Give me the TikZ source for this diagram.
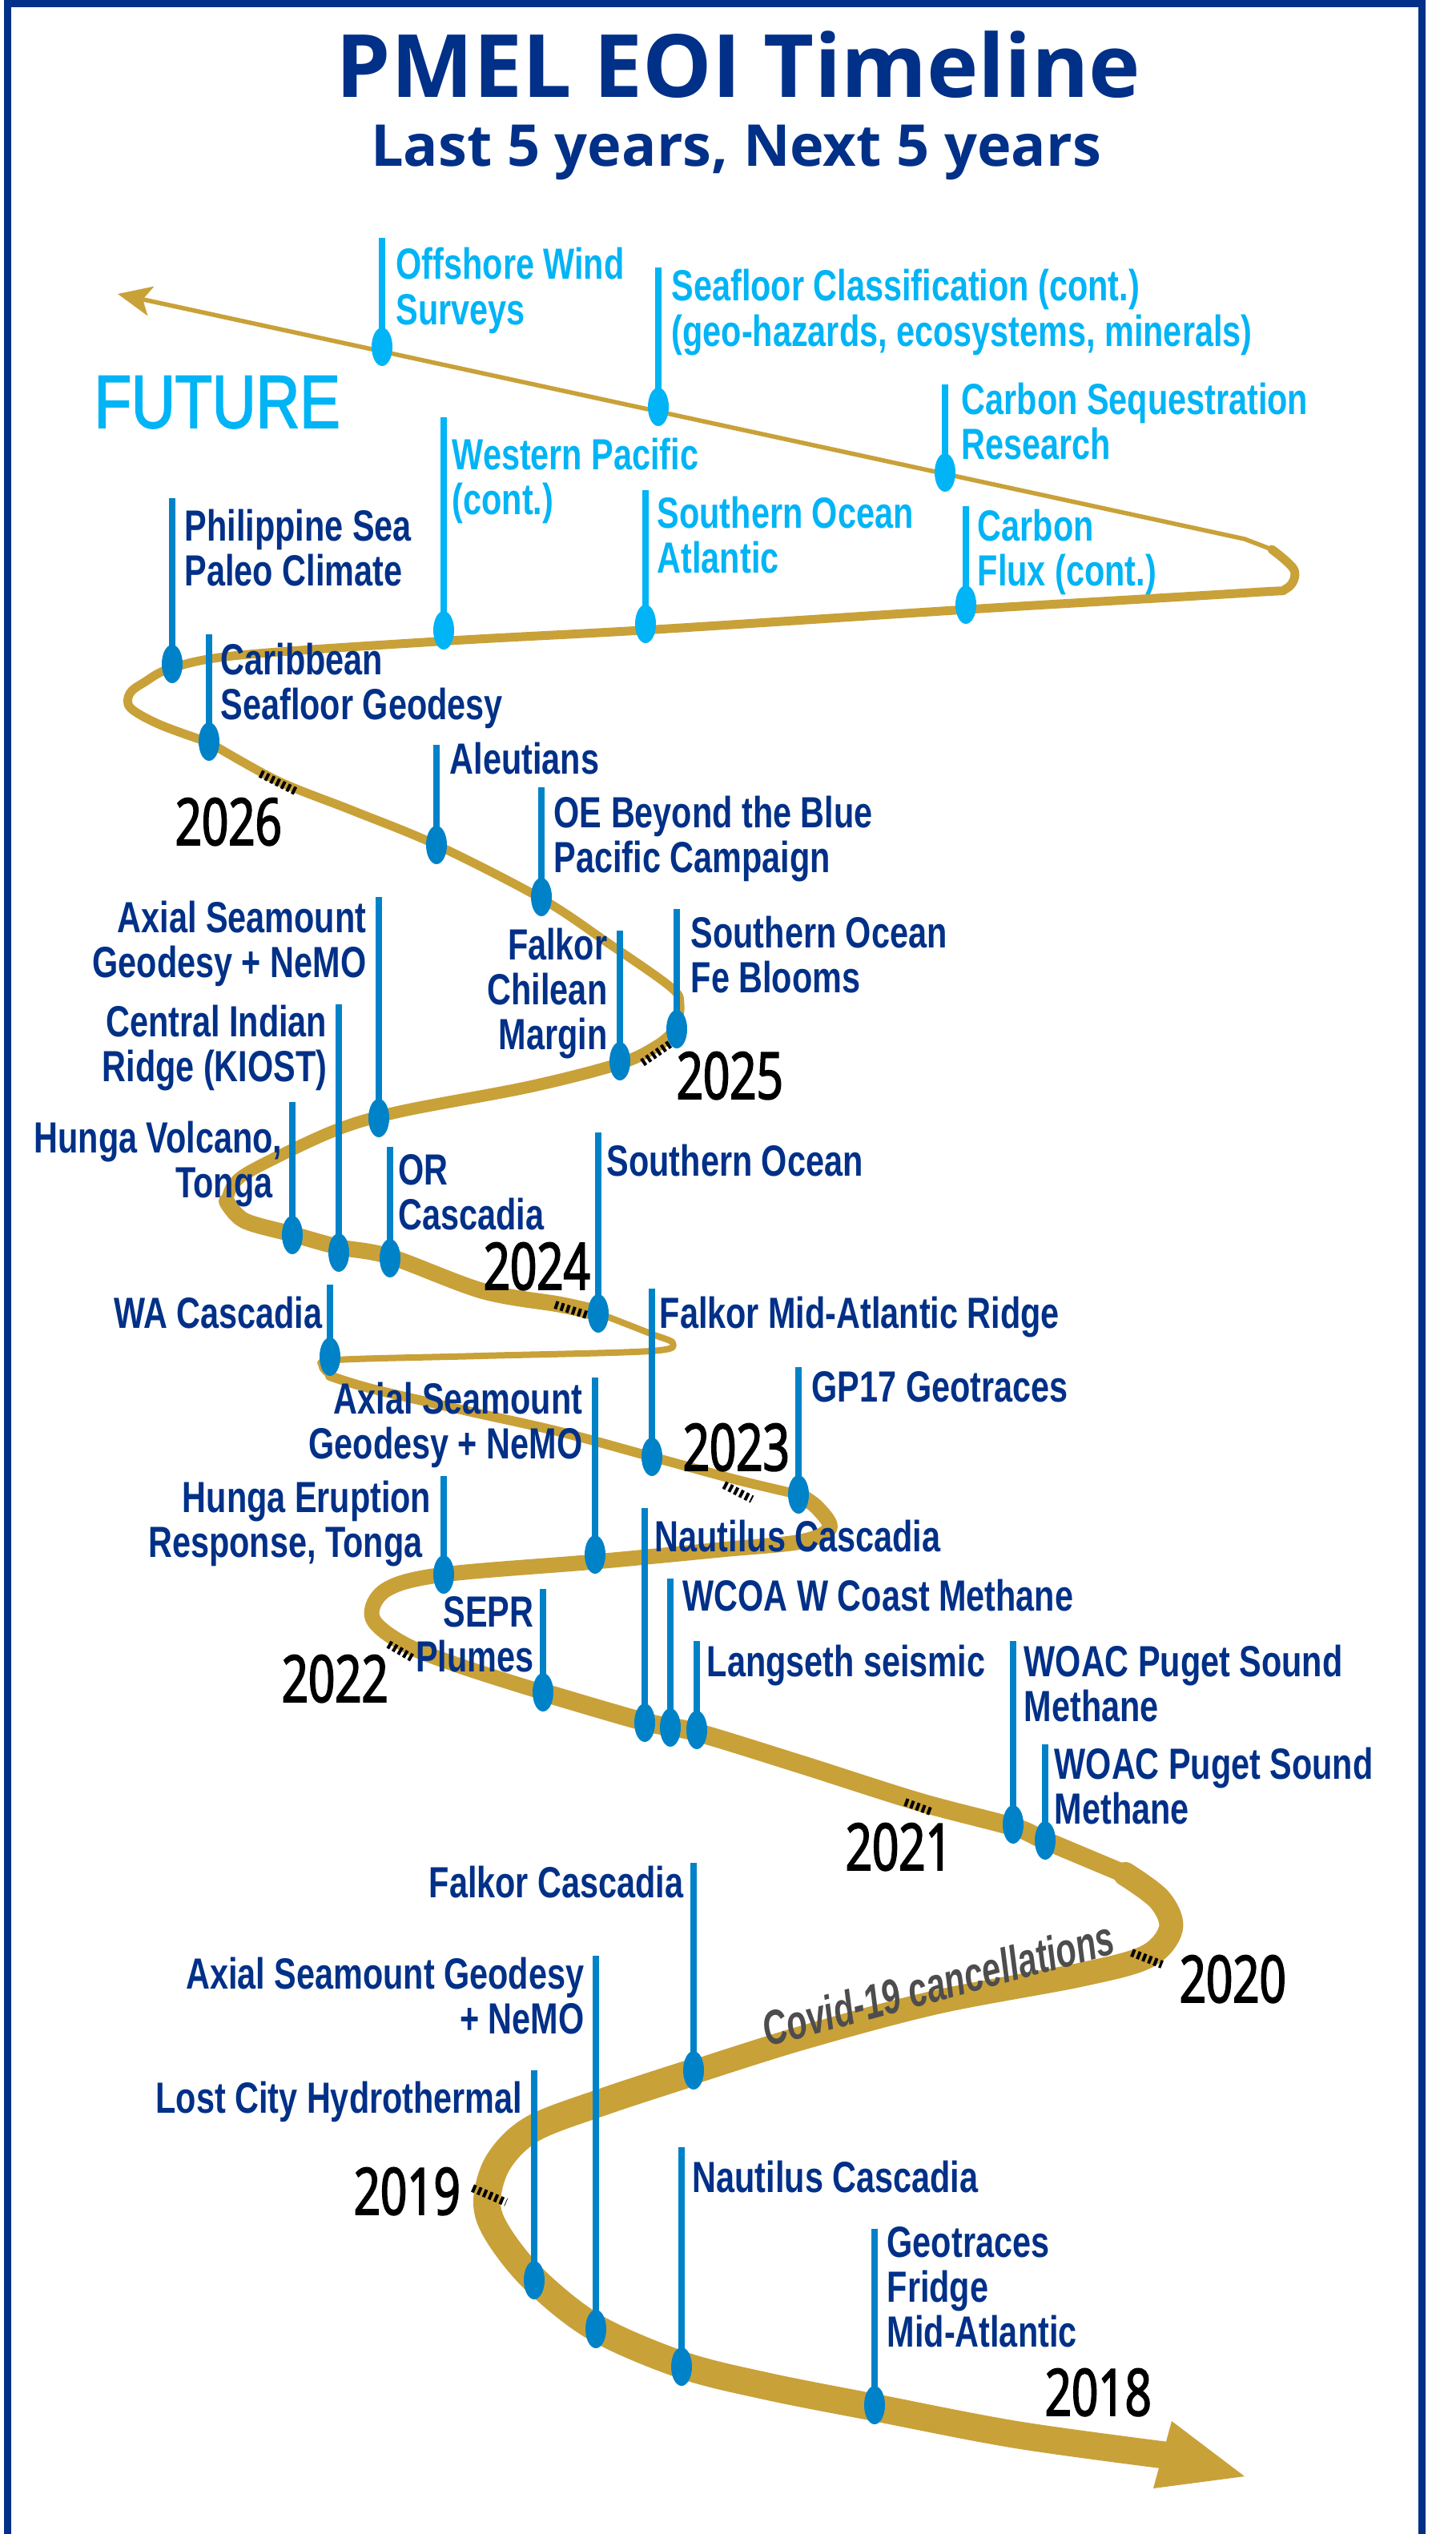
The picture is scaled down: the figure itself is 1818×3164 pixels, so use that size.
\documentclass[tikz,border=0pt]{standalone}
\usepackage{fontspec}
\setmainfont{Liberation Sans}
\newfontfamily\lblfont[FakeStretch=0.76]{Liberation Sans}
\newfontfamily\covfont[FakeStretch=0.69]{Liberation Sans}
\newfontfamily\futfont[FakeStretch=0.81, FakeBold=2]{Liberation Sans}
\newfontfamily\yrfont[FakeStretch=0.72, FakeBold=2.3]{Open Sans}
\newfontfamily\ttlfont{Open Sans}
\usetikzlibrary{arrows.meta}
\definecolor{navy}{RGB}{0,48,135}
\definecolor{sky}{RGB}{0,180,245}
\definecolor{mid}{RGB}{0,130,200}
\definecolor{gold}{RGB}{201,161,57}
\definecolor{covid}{RGB}{77,77,77}
\newcommand\Lt[1]{\vtop{\halign{##\hfil\cr#1\crcr}}}
\newcommand\Rt[1]{\vtop{\halign{\hfil##\cr#1\crcr}}}
\newcommand\evt[5]{%
  \coordinate (#1t) at (#2,#3);
  \coordinate (#1d) at (#2,#4);
  \draw[stemline,#5] (#1t) -- (#1d);
  \fill[#5] (#1d) ellipse [x radius=1.3mm, y radius=2.4mm];}
\begin{document}
\begin{tikzpicture}[x=0.1mm,y=-0.1mm,
  rib/.style={draw=gold, line cap=round, line join=round},
  stemline/.style={line width=0.75mm},
  lbl/.style={inner sep=0pt, font=\lblfont\bfseries\fontsize{15.5}{16}\selectfont},
  lblL/.style={lbl, anchor=base west},
  lblR/.style={lbl, anchor=base east},
  yr/.style={inner sep=0pt, anchor=base west, text=black, font=\yrfont\fontsize{23}{23}\selectfont},
  yrtick/.style={draw=black, line width=1.0mm, dash pattern=on 0.4mm off 0.35mm}]
\useasboundingbox (0,0) rectangle (1818,3164);
\fill[white] (0,0) rectangle (1818,3164);
% frame
\draw[navy, line width=0.9mm, line join=miter] (9,3170) -- (9,4.5) -- (1775,4.5) -- (1775,3170);
% ribbon
\fill[gold] (1463,3023) -- (1554,3092) -- (1440,3107) -- cycle;
\draw[rib, line width=3.4mm] plot[smooth, tension=0.55] coordinates {(1458,3066) (1269,3040) (1092,3006) (960,2980) (852,2953) (743,2906) (667,2846) (622,2790) (608,2750) (622,2700) (665,2658) (754,2624) (864,2588)};
\draw[rib, line width=3.0mm] plot[smooth, tension=0.55] coordinates {(864,2588) (1000,2545) (1169,2500) (1348,2466) (1432,2443) (1462,2408) (1448,2372) (1405,2340)};
\draw[rib, line width=2.3mm] plot[smooth, tension=0.55] coordinates {(1405,2340) (1305,2298) (1265,2281) (1148,2250) (1000,2203) (870,2163) (805,2150) (678,2113)};
\draw[rib, line width=1.9mm] plot[smooth, tension=0.55] coordinates {(678,2113) (580,2082) (505,2053) (465,2020) (482,1985) (554,1966) (743,1950) (900,1935) (1000,1925) (1036,1908) (1020,1882) (997,1866)};
\draw[rib, line width=1.2mm] plot[smooth, tension=0.55] coordinates {(997,1866) (921,1848) (814,1819) (696,1787) (580,1761) (464,1734) (412,1718)};
\draw[rib, line width=0.8mm] plot[smooth, tension=0.55] coordinates {(412,1718) (402,1706) (420,1698) (600,1693) (812,1687) (840,1677) (812,1665) (748,1640)};
\draw[rib, line width=2.0mm] plot[smooth, tension=0.55] coordinates {(748,1640) (700,1629) (603,1612) (487,1569) (423,1557) (365,1541) (305,1524) (283,1500)};
\draw[rib, line width=1.5mm] plot[smooth, tension=0.55] coordinates {(283,1500) (292,1478) (320,1458) (417,1412) (499,1388) (661,1357) (774,1328) (822,1305) (845,1285)};
\draw[rib, line width=1.1mm] plot[smooth, tension=0.55] coordinates {(845,1285) (849,1255) (838,1233) (760,1178) (676,1122) (545,1055) (440,1012) (347,975) (261,927)};
\draw[rib, line width=1.1mm] plot[smooth, tension=0.55] coordinates {(261,927) (200,905) (163,884) (162,866) (180,852) (215,834) (300,818) (562,800) (818,786) (1224,760) (1560,740) (1606,735) (1616,712) (1588,686)};
\draw[rib, line width=0.55mm, -{Stealth[length=4.2mm, width=3.7mm, inset=1mm]}] (1588,686) -- (1554,673) -- (147,367);
% year ticks
\draw[yrtick] (325,966) -- (369,988);
\draw[yrtick] (802,1327) -- (840,1301);
\draw[yrtick] (693,1629) -- (733,1642);
\draw[yrtick] (904,1854) -- (939,1872);
\draw[yrtick] (485,2053) -- (516,2071);
\draw[yrtick] (1130,2250) -- (1165,2263);
\draw[yrtick] (1413,2438) -- (1451,2453);
\draw[yrtick] (590,2732) -- (632,2750);
% future events
\evt{F1}{477}{297}{433}{sky}
\node[lblL, text=sky] (F1l) at (494,349) {\Lt{Offshore Wind\cr Surveys}};
\evt{F2}{822}{334}{508}{sky}
\node[lblL, text=sky] (F2l) at (838,376) {\Lt{Seafloor Classification (cont.)\cr (geo-hazards, ecosystems, minerals)}};
\evt{F3}{1180}{480}{590}{sky}
\node[lblL, text=sky] (F3l) at (1200,517) {\Lt{Carbon Sequestration\cr Research}};
\evt{F4}{554}{521}{787}{sky}
\node[lblL, text=sky] (F4l) at (564,586) {\Lt{Western Pacific\cr (cont.)}};
\evt{F5}{806}{612}{779}{sky}
\node[lblL, text=sky] (F5l) at (820,659) {\Lt{Southern Ocean\cr Atlantic}};
\evt{F6}{1206}{632}{755}{sky}
\node[lblL, text=sky] (F6l) at (1220,675) {\Lt{Carbon\cr Flux (cont.)}};
% past events
\evt{P1}{215}{622}{829}{mid}
\node[lblL, text=navy] (P1l) at (230,675) {\Lt{Philippine Sea\cr Paleo Climate}};
\evt{P2}{261}{792}{926}{mid}
\node[lblL, text=navy] (P2l) at (275,842) {\Lt{Caribbean\cr Seafloor Geodesy}};
\evt{P3}{545}{930}{1055}{mid}
\node[lblL, text=navy] (P3l) at (561,966) {Aleutians};
\evt{P4}{676}{983}{1120}{mid}
\node[lblL, text=navy] (P4l) at (691,1033) {\Lt{OE Beyond the Blue\cr Pacific Campaign}};
\evt{P5}{845}{1135}{1285}{mid}
\node[lblL, text=navy] (P5l) at (862,1183) {\Lt{Southern Ocean\cr Fe Blooms}};
\evt{P6}{774}{1162}{1325}{mid}
\node[lblR, text=navy] (P6l) at (759,1198) {\Rt{Falkor\cr Chilean\cr Margin}};
\evt{P7}{473}{1120}{1396}{mid}
\node[lblR, text=navy] (P7l) at (458,1164) {\Rt{Axial Seamount\cr Geodesy + NeMO}};
\evt{P8}{423}{1254}{1564}{mid}
\node[lblR, text=navy] (P8l) at (409,1294) {\Rt{Central Indian\cr Ridge (KIOST)}};
\evt{P9}{365}{1376}{1542}{mid}
\node[lblR, text=navy] (P9l) at (353,1439) {\Rt{Hunga Volcano,\cr Tonga\kern1.2mm}};
\evt{P10}{487}{1432}{1571}{mid}
\node[lblL, text=navy] (P10l) at (497,1479) {\Lt{OR\cr Cascadia}};
\evt{P11}{747}{1414}{1640}{mid}
\node[lblL, text=navy] (P11l) at (757,1468) {Southern Ocean};
\evt{P12}{814}{1609}{1819}{mid}
\node[lblL, text=navy] (P12l) at (823,1658) {Falkor Mid-Atlantic Ridge};
\evt{P13}{412}{1604}{1694}{mid}
\node[lblR, text=navy] (P13l) at (403,1658) {WA Cascadia};
\evt{P14}{997}{1707}{1866}{mid}
\node[lblL, text=navy] (P14l) at (1013,1750) {GP17 Geotraces};
\evt{P15}{743}{1720}{1941}{mid}
\node[lblR, text=navy] (P15l) at (728,1765) {\Rt{Axial Seamount\cr Geodesy + NeMO}};
\evt{P16}{554}{1843}{1966}{mid}
\node[lblR, text=navy] (P16l) at (539,1888) {\Rt{Hunga Eruption\cr Response, Tonga\kern1.1mm}};
\evt{P17}{805}{1883}{2151}{mid}
\node[lblL, text=navy] (P17l) at (817,1937) {Nautilus Cascadia};
\evt{P18}{837}{1971}{2157}{mid}
\node[lblL, text=navy] (P18l) at (852,2011) {WCOA W Coast Methane};
\evt{P19}{678}{1984}{2113}{mid}
\node[lblR, text=navy] (P19l) at (667,2031) {\Rt{SEPR\cr Plumes}};
\evt{P20}{870}{2049}{2160}{mid}
\node[lblL, text=navy] (P20l) at (882,2093) {Langseth seismic};
\evt{P21}{1265}{2049}{2278}{mid}
\node[lblL, text=navy] (P21l) at (1278,2093) {\Lt{WOAC Puget Sound\cr Methane}};
\evt{P22}{1305}{2178}{2298}{mid}
\node[lblL, text=navy] (P22l) at (1316,2221) {\Lt{WOAC Puget Sound\cr Methane}};
\evt{P23}{866}{2326}{2585}{mid}
\node[lblR, text=navy] (P23l) at (854,2369) {Falkor Cascadia};
\evt{P24}{744}{2442}{2908}{mid}
\node[lblR, text=navy] (P24l) at (730,2483) {\Rt{Axial Seamount Geodesy\cr + NeMO}};
\evt{P25}{667}{2585}{2847}{mid}
\node[lblR, text=navy] (P25l) at (653,2638) {Lost City Hydrothermal};
\evt{P26}{851}{2681}{2955}{mid}
\node[lblL, text=navy] (P26l) at (864,2737) {Nautilus Cascadia};
\evt{P27}{1092}{2783}{3003}{mid}
\node[lblL, text=navy] (P27l) at (1107,2818) {\Lt{Geotraces\cr Fridge\cr Mid-Atlantic}};
% years
\node[yr] (y2026) at (218,1055) {2026};
\node[yr] (y2025) at (844,1372) {2025};
\node[yr] (y2024) at (603,1610) {2024};
\node[yr] (y2023) at (852,1836) {2023};
\node[yr] (y2022) at (351,2125) {2022};
\node[yr] (y2021) at (1055,2335) {2021};
\node[yr] (y2020) at (1472,2500) {2020};
\node[yr] (y2019) at (441,2765) {2019};
\node[yr] (y2018) at (1304,3016) {2018};
% covid
\node[inner sep=0pt, anchor=base west, rotate=15, text=covid, font=\covfont\bfseries\itshape\fontsize{17.2}{18}\selectfont] (cov) at (958,2556) {Covid-19 cancellations};
% titles
\node[inner sep=0pt, anchor=base, text=navy, font=\ttlfont\bfseries\fontsize{31}{31}\selectfont] (title) at (922,122) {PMEL EOI Timeline};
\node[inner sep=0pt, anchor=base, text=navy, font=\ttlfont\bfseries\fontsize{20.5}{21}\selectfont] (sub) at (919,208) {Last 5 years, Next 5 years};
\node[inner sep=0pt, anchor=base west, text=sky, font=\futfont\fontsize{26.6}{27}\selectfont] (future) at (117,534) {FUTURE};
\end{tikzpicture}
\end{document}
